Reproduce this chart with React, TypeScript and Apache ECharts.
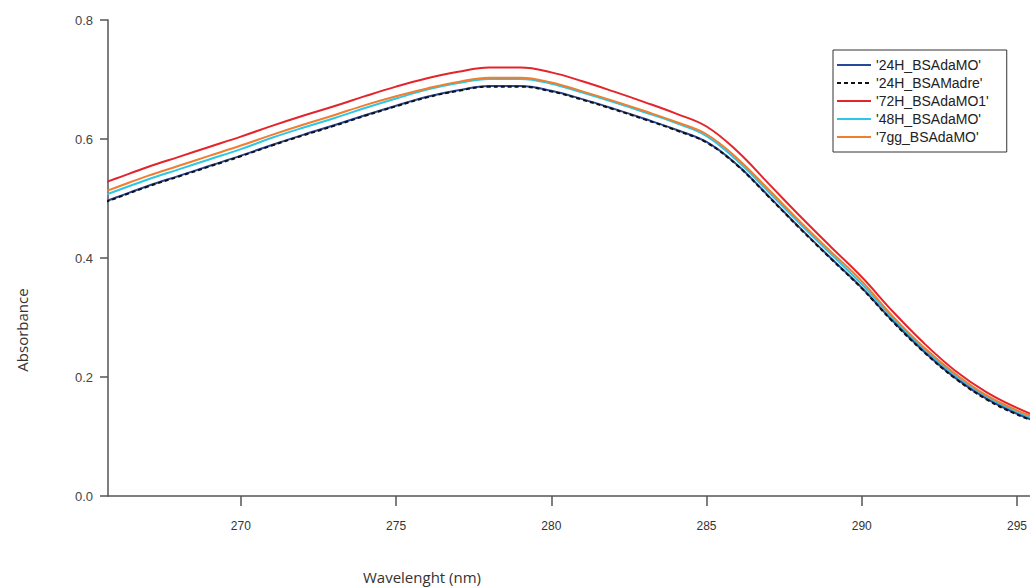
import React, { useEffect, useRef } from "react";
import * as echarts from "echarts";

const wavelengths = [265, 266, 267, 268, 269, 270, 271, 272, 273, 274, 275, 276, 277, 278, 279, 280, 281, 282, 283, 284, 285, 286, 287, 288, 289, 290, 291, 292, 293, 294, 295, 296];

const s24H_BSAdaMO = [0.483, 0.502, 0.521, 0.538, 0.555, 0.572, 0.59, 0.607, 0.623, 0.64, 0.656, 0.671, 0.682, 0.689, 0.689, 0.681, 0.667, 0.651, 0.634, 0.616, 0.595, 0.556, 0.504, 0.451, 0.4, 0.35, 0.294, 0.243, 0.199, 0.164, 0.138, 0.118];
const s24H_BSAMadre = [0.482, 0.501, 0.52, 0.537, 0.554, 0.571, 0.589, 0.606, 0.622, 0.639, 0.655, 0.67, 0.681, 0.688, 0.688, 0.68, 0.666, 0.65, 0.633, 0.615, 0.594, 0.555, 0.503, 0.45, 0.399, 0.349, 0.293, 0.242, 0.198, 0.163, 0.137, 0.117];
const s72H_BSAdaMO1 = [0.515, 0.534, 0.553, 0.57, 0.587, 0.604, 0.622, 0.639, 0.655, 0.672, 0.688, 0.702, 0.713, 0.72, 0.72, 0.712, 0.697, 0.68, 0.662, 0.643, 0.621, 0.579, 0.525, 0.471, 0.419, 0.368, 0.31, 0.257, 0.211, 0.175, 0.148, 0.127];
const s48H_BSAdaMO = [0.494, 0.513, 0.532, 0.549, 0.566, 0.583, 0.602, 0.619, 0.635, 0.652, 0.668, 0.683, 0.694, 0.701, 0.701, 0.693, 0.678, 0.662, 0.645, 0.627, 0.605, 0.563, 0.511, 0.458, 0.407, 0.356, 0.299, 0.247, 0.203, 0.168, 0.141, 0.121];
const s7gg_BSAdaMO = [0.5, 0.519, 0.538, 0.555, 0.572, 0.589, 0.607, 0.624, 0.64, 0.657, 0.672, 0.685, 0.696, 0.703, 0.703, 0.695, 0.68, 0.664, 0.647, 0.629, 0.608, 0.567, 0.515, 0.462, 0.411, 0.361, 0.302, 0.25, 0.206, 0.17, 0.144, 0.124];

const seriesNames = ["'24H_BSAdaMO'", "'24H_BSAMadre'", "'72H_BSAdaMO1'", "'48H_BSAdaMO'", "'7gg_BSAdaMO'"];
const xTicks = [270, 275, 280, 285, 290, 295];

const pairs = (ys: number[]) => wavelengths.map((x, i) => [x, ys[i]]);

export default function App() {
  const ref = useRef<HTMLDivElement>(null);
  useEffect(() => {
    if (!ref.current) return;
    const chart = echarts.init(ref.current, null, { renderer: "svg" });
    const labelFont = "'Liberation Sans', Arial, sans-serif";
    const mk = (name: string, data: number[], color: string, dashed = false) => ({
      name,
      type: "line",
      data: pairs(data),
      showSymbol: false,
      symbol: "none",
      smooth: 0.4,
      clip: true,
      lineStyle: { color, width: 2, type: dashed ? [4, 3] : "solid" },
      itemStyle: { color },
    });
    chart.setOption({
      animation: false,
      backgroundColor: "#ffffff",
      grid: { left: 108, right: 0, top: 20, bottom: 91 },
      legend: {
        orient: "vertical",
        left: 833,
        top: 50,
        padding: [8, 18, 8, 3],
        itemWidth: 34,
        itemHeight: 14,
        itemGap: 4,
        borderColor: "#333",
        borderWidth: 1,
        selectedMode: false,
        data: seriesNames,
        itemStyle: { opacity: 0, borderWidth: 0 },
        textStyle: { fontFamily: labelFont, fontSize: 14, color: "#222" },
      },
      xAxis: {
        type: "value",
        min: 265.72,
        max: 295.4,
        axisLine: { show: true, lineStyle: { color: "#555", width: 1.5 } },
        axisTick: { show: true, length: 10, customValues: xTicks, lineStyle: { color: "#555", width: 1.5 } },
        axisLabel: { customValues: xTicks, margin: 24, fontFamily: labelFont, fontSize: 12, color: "#333" },
        splitLine: { show: false },
      },
      yAxis: {
        type: "value",
        min: 0,
        max: 0.8,
        interval: 0.2,
        axisLine: { show: true, lineStyle: { color: "#555", width: 1.5 } },
        axisTick: { show: true, length: 8, lineStyle: { color: "#555", width: 1.5 } },
        axisLabel: {
          margin: 15,
          fontFamily: labelFont,
          fontSize: 13,
          color: "#444",
          formatter: (v: number) => v.toFixed(1),
        },
        splitLine: { show: false },
      },
      graphic: [
        {
          type: "text",
          x: 422,
          y: 577,
          style: {
            text: "Wavelenght (nm)",
            font: "15px 'Open Sans', sans-serif",
            fill: "#333",
            textAlign: "center",
            textVerticalAlign: "middle",
          },
        },
        {
          type: "text",
          x: 22,
          y: 330,
          rotation: Math.PI / 2,
          style: {
            text: "Absorbance",
            font: "15px 'Open Sans', sans-serif",
            fill: "#333",
            textAlign: "center",
            textVerticalAlign: "middle",
          },
        },
      ],
      series: [
        mk(seriesNames[3], s48H_BSAdaMO, "#2cc6e6"),
        mk(seriesNames[4], s7gg_BSAdaMO, "#f07e2e"),
        mk(seriesNames[2], s72H_BSAdaMO1, "#e3242b"),
        mk(seriesNames[0], s24H_BSAdaMO, "#27479a"),
        mk(seriesNames[1], s24H_BSAMadre, "#111111", true),
      ],
    });
    return () => chart.dispose();
  }, []);
  return <div ref={ref} style={{ position: "absolute", left: 0, top: 0, width: 1030, height: 587 }} />;
}
